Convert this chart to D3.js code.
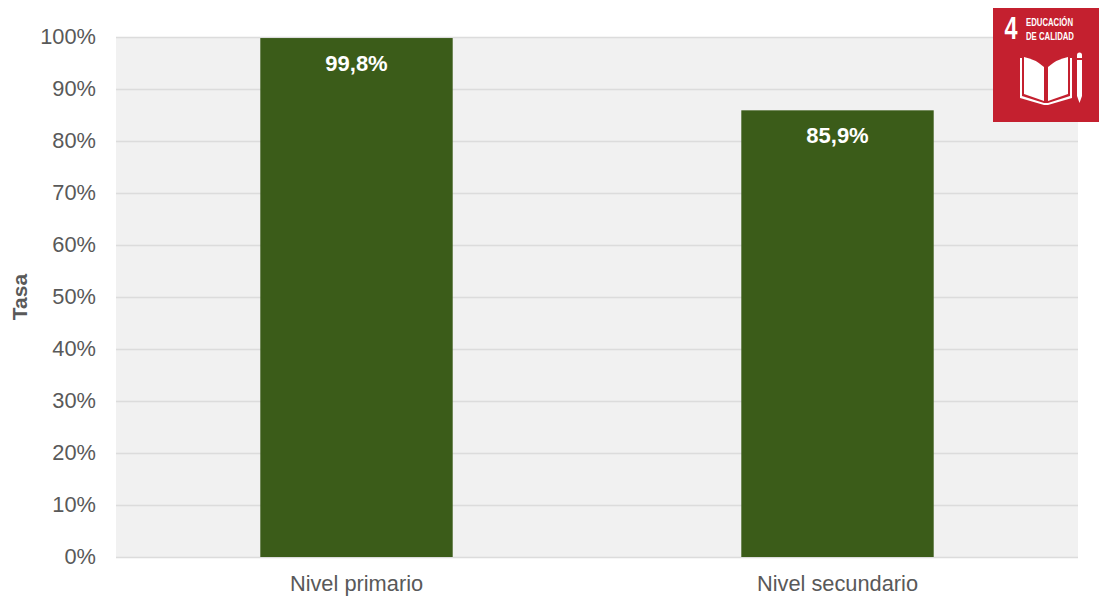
<!DOCTYPE html>
<html><head><meta charset="utf-8">
<script src="https://cdnjs.cloudflare.com/ajax/libs/d3/7.8.5/d3.min.js"></script>
<style>html,body{margin:0;padding:0;background:#fff}svg{display:block}text{font-family:"Liberation Sans",Arial,sans-serif}</style>
</head><body><div id="c"></div>
<script>
const categories = ["Nivel primario","Nivel secundario"];
const values = [99.8,85.9];
const valueLabels = ["99,8%","85,9%"];
const yTicks = [0,10,20,30,40,50,60,70,80,90,100];
const axisTitle = "Tasa";
const logoNumber = "4";
const logoLines = ["EDUCACIÓN","DE CALIDAD"];

const W=1099,H=599,m={l:116,r:21,t:37,b:42};
const svg=d3.select("#c").append("svg").attr("width",W).attr("height",H);
const x=d3.scaleBand().domain(categories).range([m.l,W-m.r]).paddingInner(0.6).paddingOuter(0.3);
const y=d3.scaleLinear().domain([0,100]).range([H-m.b,m.t]);

svg.append("rect").attr("x",m.l).attr("y",m.t).attr("width",W-m.l-m.r).attr("height",H-m.t-m.b).attr("fill","#f1f1f1");
const yAxis=svg.append("g").attr("transform",`translate(${m.l},0)`)
  .call(d3.axisLeft(y).tickValues(yTicks).tickFormat(d=>d+"%").tickSize(-(W-m.l-m.r)).tickPadding(20));
yAxis.select(".domain").remove();
yAxis.selectAll("line").attr("stroke","#dcdcdc").attr("stroke-width",1.6);
yAxis.selectAll("text").attr("fill","#595959").style("font-size","21.8px");

svg.selectAll("rect.bar").data(values).join("rect").attr("class","bar")
  .attr("x",(d,i)=>x(categories[i])).attr("width",x.bandwidth())
  .attr("y",d=>y(d)).attr("height",d=>y(0)-y(d)).attr("fill","#3b5c19");
svg.selectAll("text.vl").data(values).join("text").attr("class","vl")
  .attr("x",(d,i)=>x(categories[i])+x.bandwidth()/2).attr("y",d=>y(d)+33)
  .attr("text-anchor","middle").attr("fill","#fff").attr("font-weight","bold").style("font-size","22px")
  .text((d,i)=>valueLabels[i]);

const xAxis=svg.append("g").attr("transform",`translate(0,${H-m.b})`)
  .call(d3.axisBottom(x).tickSize(0).tickPadding(19));
xAxis.select(".domain").remove();
xAxis.selectAll("text").attr("fill","#595959").style("font-size","21.8px");

svg.append("text").attr("transform",`translate(27,297) rotate(-90)`).attr("text-anchor","middle")
  .attr("fill","#595959").attr("font-weight","bold").style("font-size","21px").text(axisTitle);

// SDG logo
const logo=svg.append("g").attr("transform","translate(993,8)");
logo.append("rect").attr("width",106).attr("height",114).attr("fill","#c4202f");
logo.append("text").attr("x",18).attr("y",31).attr("text-anchor","middle").attr("fill","#fff").attr("font-weight","bold").style("font-size","31px").attr("textLength",13).attr("lengthAdjust","spacingAndGlyphs").text(logoNumber);
logo.selectAll("text.ll").data(logoLines).join("text").attr("class","ll").attr("x",33).attr("y",(d,i)=>18+i*14)
  .attr("fill","#fff").attr("font-weight","bold").style("font-size","11px").attr("textLength",(d,i)=>i?48:47).attr("lengthAdjust","spacingAndGlyphs").text(d=>d);
const book=logo.append("g").attr("fill","#fff");
book.append("path").attr("d","M31 49 L31 86 L51 93 L51 59 Q42 51 31 49Z");
book.append("path").attr("d","M55 93 L75 86 L75 49 Q64 51 55 59Z");
book.append("path").attr("d","M27 50 L29 50 L29 88 L51 95 L55 95 L77 88 L77 50 L79 50 L79 90 L55 97 L51 97 L27 90Z");
book.append("path").attr("d","M84 47 a2.5 2.5 0 0 1 5 0 L89 50 L84 50Z M84 52 L89 52 L89 88 L86.5 95 L84 88Z");
</script></body></html>
